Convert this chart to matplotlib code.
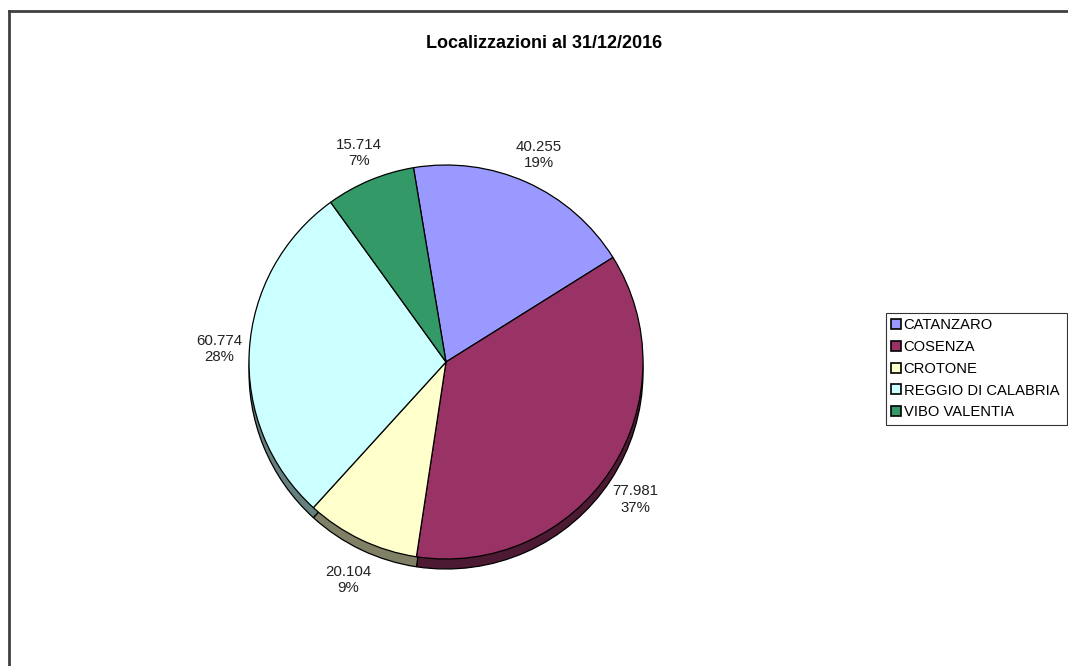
import matplotlib
matplotlib.use("Agg")
import matplotlib.pyplot as plt
from matplotlib.patches import Patch
import numpy as np

plt.rcParams["font.family"] = ["Liberation Sans", "DejaVu Sans"]

# %%
categories = ["CATANZARO", "COSENZA", "CROTONE", "REGGIO DI CALABRIA", "VIBO VALENTIA"]
values = [40255, 77981, 20104, 60774, 15714]
pct_labels = ["19%", "37%", "9%", "28%", "7%"]
colors = ["#9999FF", "#993366", "#FFFFCC", "#CCFFFF", "#339966"]


def darker(c, f=0.5):
    rgb = np.array(matplotlib.colors.to_rgb(c))
    return tuple(rgb * f)


# %%
W, H = 1068, 666
fig = plt.figure(figsize=(W / 100, H / 100), dpi=100)

R = 197.0
cx, cy = 446.0, 362.0
half = 1.4 * R
ax = fig.add_axes([(cx - half) / W, (H - cy - half) / H, 2 * half / W, 2 * half / H])

depth = 10 / R
start = 99.5

# side of the 3d pie
ax.pie(values, colors=[darker(c) for c in colors], startangle=start, counterclock=False,
       center=(0, -depth), radius=1,
       wedgeprops=dict(edgecolor="black", linewidth=0.9))
wedges, _ = ax.pie(values, colors=colors, startangle=start, counterclock=False,
                   center=(0, 0), radius=1,
                   wedgeprops=dict(edgecolor="black", linewidth=0.9))

# labels outside the slices, text box pushed away from the edge
for w, v, p in zip(wedges, values, pct_labels):
    mid = np.deg2rad((w.theta1 + w.theta2) / 2)
    ux, uy = np.cos(mid), np.sin(mid)
    x = (1.04 + 22 / R) * ux
    y = (1.07 + 16 / R) * uy
    if y < 0:
        y -= 1.3 * depth
    txt = f"{v:,}".replace(",", ".") + "\n" + p
    ax.text(x, y, txt, ha="center", va="center", fontsize=10.8, color="#222222",
            linespacing=1.2)

ax.set_xlim(-1.4, 1.4)
ax.set_ylim(-1.4, 1.4)
ax.set_aspect("auto")
ax.axis("off")

fig.text(544 / W, 1 - 44 / H, "Localizzazioni al 31/12/2016", ha="center", va="center",
         fontsize=13, fontweight="bold")

handles = [Patch(facecolor=c, edgecolor="black", linewidth=1.2) for c in colors]
leg = fig.legend(handles, categories, loc="upper left",
                 bbox_to_anchor=(886 / W, 1 - 313 / H - 0.01, (1067 - 886) / W, 0.01),
                 mode="expand", fontsize=10.6,
                 handlelength=0.65, handleheight=0.65, handletextpad=0.2,
                 labelspacing=0.53, borderpad=0.35, borderaxespad=0,
                 fancybox=False, frameon=True)
leg.get_frame().set_edgecolor("black")
leg.get_frame().set_linewidth(0.8)

# chart area border
fig.add_artist(plt.Line2D([8.5 / W, 8.5 / W], [0, 1 - 11 / H], color="#404040", linewidth=2))
fig.add_artist(plt.Line2D([8.5 / W, 1], [1 - 11 / H, 1 - 11 / H], color="#404040", linewidth=2))

fig.savefig("out.png", dpi=100, facecolor="white")
